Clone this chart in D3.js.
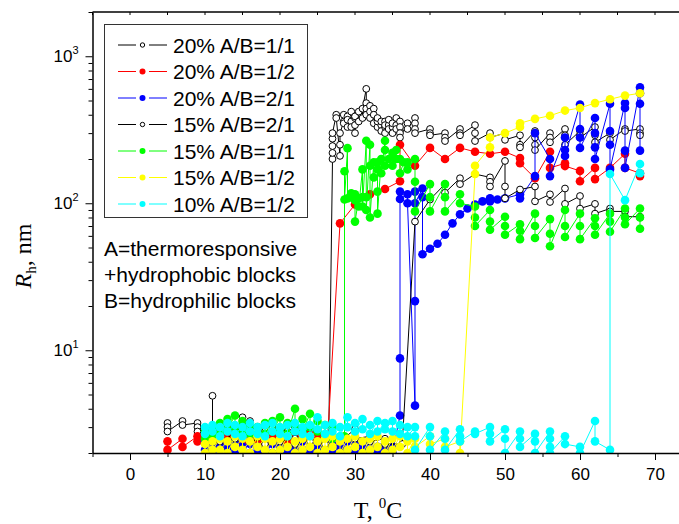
<!DOCTYPE html>
<html>
<head>
<meta charset="utf-8">
<script src="https://cdn.jsdelivr.net/npm/d3@7"></script>
<style>
  body { margin: 0; background: #fff; }
  svg { display: block; }
</style>
</head>
<body>
<script>
// each row: [T, Rh values measured at that T, in measurement order]
var s20_11 = [[5,3.2,3.0,2.8],[7,3.3,3.1],[9,3.2,3.0,2.8],[11,2.9,4.9,2.7],[12,2.8,2.6],[13,3.0,2.7],[14,2.9,2.6],[15,3.5,3.1],[16,3.3,2.9],[17,3.0,2.7],[18,2.8,2.6],[19,3.0,2.7],[20,2.9,2.6],[21,2.8,2.5],[22,3.0,2.7],[23,2.9,2.6],[24,2.8,2.5],[25,2.9,2.6],[26.5,2.6],
  [27,200,220,245,275,300],[27.5,400,380],[28,210,250,300],[28.5,360,400,350],[29,330,390,370],[29.5,420,360,330],[30,380,340,300,390],[30.5,360,420],[31,380,440],[31.5,600,480,440,400],[32,460,420,380],[32.5,440,400,350],[33,330,360,380],[33.5,340,310,360],[34,360,330,300,340],[34.5,340,370,320],[35,330,300,350],[35.5,380,340,320],[36,360,330,300,280],[37,350,320],
  [38,380,350,320,300],[40,320,300,290],[42,300,280,265],[44,320,300,290],[46,340,300,265],[48,300,280],[50,300,270],[52,290,250,240],[54,310,280,250,230],[56,300,280,260],[58,320,290,250],[60,310,290,280],[62,330,290,260],[64,300,270],[66,320,310],[68,320,300,290]];

var s20_12 = [[5,2.4,2.1],[7,2.5,2.2],[9,2.6,2.4],[11,2.7,2.5],[12,2.6,2.4],[13,3.0,2.6],[14,2.7,2.5],[15,2.6,2.4],[16,2.7,2.5],[17,2.6,2.4],[18,2.5,2.3],[19,2.6,2.4],[20,2.7,2.5],[21,2.6,2.4],[22,2.5,2.3],[23,2.6,2.4],[24,2.7,2.5],[25,2.6,2.4],[26.3,2.3],
  [28,73],[30,98],[32,115],[34,125],[36,141,250],[38,180],[40,238],[42,200],[44,238],[46,224],[48,217],[50,224],[52,203,187],[54,148],[56,224,174],[58,187,179],[60,166,141],[62,174,146],[64,174],[66,217,174],[68,160,153]];

var s20_21 = [[10,2.4,2.1],[11,2.3,2.0],[12,2.5,2.2],[13,2.3,2.1],[14,2.4,2.0],[15,2.5,2.2],[16,2.3,2.0],[17,2.2,2.0],[18,2.1,2.0],[19,2.3,2.0],[20,2.2,2.0],[21,2.1,2.0],[22,2.3,2.1],[23,2.4,2.1],[24,2.2,2.0],[25,2.3,2.1],[26,2.4,2.2],[27,2.3,2.0],[28,2.2,2.0],[29,2.4,2.1],[30,2.3,2.0],[31,2.2,2.0],[32,2.4,2.1],[33,2.2,2.0],[34,2.3,2.1],[35,2.2,2.0],
  [36,3.6,8.8,120,107],[37,115,100],[38,4.2,21.6,120,100],[39,126,110,45],[40,49],[41,53],[42,61],[43,73],[44,84],[45,92],[46,98],[47,103],[48,106,108,103],[49,106],[50,108],[52,115,108],[54,153,300],[56,200,153],[58,280,230,210],[60,470,320,280,238],[62,380,300,240,200],[64,475,310,250,170],[66,480,445,228,174],[68,614,560,475,228]];

var s15_21 = [[10,2.7,2.5],[12,2.6,2.4],[14,2.7,2.5],[16,2.6,2.4],[18,2.5,2.3],[20,2.6,2.4],[22,2.5,2.3],[24,2.6,2.4],[26,2.5,2.3],[28,2.6,2.4],[30,2.9,2.5],[32,2.6,2.4],[34,2.5,2.3],[36.3,2.3],
  [38,75],[40,106],[42,135,118],[44,148,135],[46,158],[48,150,140,130],[50,194,130,108],[52,124],[54,130,103],[56,115,102],[58,126,99],[60,112,92],[62,99,85],[64,92,88],[66,88,81],[68,81,80]];

var s15_11 = [[10,2.8,2.5],[11,3.0,2.6],[12,3.2,2.7],[13,3.4,2.9],[14,3.6,3.0],[15,3.3,2.8],[16,3.1,2.7],[17,3.0,2.6],[18,3.2,2.7],[19,3.3,2.8],[20,3.5,2.9],[21,3.2,2.7],[22,4.0,3.1],[23,3.4,2.8],[24,3.7,3.0],[25,3.3,2.8],[26,3.1,2.6],[27,3.0,2.5],[28.6,2.6],
  [28.6,165,106],[29,237,108],[29.5,117,110],[30,115,105,75],[30.5,108,95],[31,170,110,95],[31.5,266,110,90],[32,250,180,80],[32.5,190,150],[33,190,170,120,85],[33.5,200,160],[34,266,230,180],[34.5,200],[35,220,180],[35.5,230,200],[36,200,160],[36.5,190],[37,190,170],
  [38,200,140,88],[40,135,110,88],[42,135,110,88],[44,115,100],[46,95,80,70],[48,90,75,66],[50,81,70,61],[52,72,65,57],[54,85,70,58],[56,78,62,51],[58,90,70,59],[60,85,70,57],[62,79,70,61],[64,85,75,64],[66,92,80,72],[68,92,80,67]];

var s15_12 = [[10,2.3,2.0],[11,2.4,2.1],[12,2.5,2.1],[13,2.4,2.0],[14,2.6,2.2],[15,2.5,2.1],[16,2.4,2.0],[17,2.6,2.2],[18,2.5,2.1],[19,2.4,2.0],[20,2.5,2.1],[21,2.6,2.2],[22,2.4,2.0],[23,2.5,2.1],[24,2.6,2.2],[25,2.4,2.0],[26,2.5,2.1],[27,2.6,2.2],[28,2.4,2.0],[29,2.5,2.1],[30,2.6,2.2],[31,2.4,2.0],[32,2.5,2.1],[33,2.6,2.2],[34,2.4,2.0],[35,2.5,2.1],[36,2.6,2.2],[37,2.4,2.0],[38,2.5,2.2],[40,2.6,2.3],[42,2.5,2.2],[44,2.4,2.0],
  [46,158,180],[48,240,280],[50,300],[52,330,350],[54,375],[56,394],[58,427],[60,445],[62,480],[64,510],[66,540],[68,560]];

var s10_12 = [[10,3.0,2.7],[11,3.1,2.8],[12,3.0,2.6],[13,3.2,2.8],[14,3.1,2.7],[15,3.0,2.6],[16,3.2,2.8],[17,3.0,2.7],[18,3.1,2.6],[19,3.2,2.8],[20,3.0,2.7],[21,3.1,2.6],[22,3.2,2.8],[23,3.0,2.7],[24,3.1,2.6],[25,3.5,2.9],[26,3.1,2.7],[27,3.2,2.8],[28,3.0,2.6],[29,3.5,3.0],[30,3.2,2.8],[31,3.4,2.9],[32,3.1,2.7],[33,3.3,2.8],[34,3.2,2.9],[35,3.3,2.8],[36,3.1,2.7],[37,3.0,2.6],
  [38,3.0,2.6,2.1],[40,3.0,2.6,2.1],[42,2.8,2.5,2.1],[44,2.9,2.6,2.4],[46,2.8,2.7],[48,3.0,2.7,2.4],[50,2.9,2.5,2.0],[52,2.8,2.5,2.2],[54,2.7,2.4,2.0],[56,2.8,2.5,2.2,2.0],[58,2.6,2.3],[60,2.2,2.0],[62,3.3,2.4],[64,2.1,158],[66,105],[68,185,160]];

var seriesData = [s20_11, s20_12, s20_21, s15_21, s15_11, s15_12, s10_12];
var seriesNames = ["20% A/B=1/1", "20% A/B=1/2", "20% A/B=2/1", "15% A/B=2/1", "15% A/B=1/1", "15% A/B=1/2", "10% A/B=1/2"];
var seriesColors = ["#000000", "#ff0000", "#0000ff", "#000000", "#00ff00", "#ffff00", "#00ffff"];
var seriesOpen = [true, false, false, true, false, false, false];
var xTicks = [0, 10, 20, 30, 40, 50, 60, 70];
var yTicks = [10, 100, 1000];
var notes = ["A=thermoresponsive", "+hydrophobic blocks", "B=hydrophilic blocks"];

var width = 679, height = 524;
var plotL = 92.5, plotR = 692.5, plotT = 12, plotB = 453;
var sans = "'Liberation Sans', Arial, sans-serif";
var serif = "'Liberation Serif', 'Times New Roman', serif";

var x = d3.scaleLinear().domain([-5, 75]).range([plotL, plotR]);
var y = d3.scaleLog().domain([2, 2000]).range([plotB, plotT]);

var svg = d3.select("body").append("svg")
    .attr("width", width)
    .attr("height", height);

svg.append("clipPath").attr("id", "plotclip")
  .append("rect")
    .attr("x", plotL).attr("y", plotT)
    .attr("width", plotR - plotL).attr("height", plotB - plotT);

// flatten rows into points
function flat(rows) {
  var pts = [];
  rows.forEach(function(r) {
    for (var i = 1; i < r.length; i++) pts.push([r[0], r[i]]);
  });
  return pts;
}

var line = d3.line()
    .x(function(d) { return x(d[0]); })
    .y(function(d) { return y(d[1]); });

var plot = svg.append("g").attr("clip-path", "url(#plotclip)");

seriesData.forEach(function(rows, k) {
  var pts = flat(rows);
  var g = plot.append("g");
  g.append("path")
    .datum(pts)
    .attr("d", line)
    .attr("fill", "none")
    .attr("stroke", seriesColors[k])
    .attr("stroke-width", 1);
  g.selectAll("circle")
    .data(pts)
    .enter()
    .append("circle")
    .attr("cx", function(d) { return x(d[0]); })
    .attr("cy", function(d) { return y(d[1]); })
    .attr("r", seriesOpen[k] ? 3.4 : 4.3)
    .attr("fill", seriesOpen[k] ? "#fff" : seriesColors[k])
    .attr("stroke", seriesOpen[k] ? "#000" : "none")
    .attr("stroke-width", 1);
});

// frame top line
svg.append("line")
  .attr("x1", plotL).attr("x2", width).attr("y1", plotT).attr("y2", plotT)
  .attr("stroke", "#000").attr("stroke-width", 1.5);

// top ticks pointing inward
var topTicks = d3.range(-5, 76, 5);
svg.selectAll(".ttick")
  .data(topTicks)
  .enter()
  .append("line")
  .attr("class", "ttick")
  .attr("x1", function(d) { return x(d); })
  .attr("x2", function(d) { return x(d); })
  .attr("y1", plotT).attr("y2", plotT + 3)
  .attr("stroke", "#000").attr("stroke-width", 1);

// bottom axis
var xMinor = d3.range(-5, 76, 10);
svg.append("g")
  .attr("transform", "translate(0," + plotB + ")")
  .call(d3.axisBottom(x).tickValues(xMinor).tickSize(4).tickSizeOuter(0).tickFormat(""))
  .call(function(g) { g.select(".domain").remove(); });

var xa = svg.append("g")
  .attr("transform", "translate(0," + plotB + ")")
  .call(d3.axisBottom(x).tickValues(xTicks).tickSize(7).tickSizeOuter(0).tickPadding(8));
xa.select(".domain").attr("stroke-width", 1.5);
xa.selectAll("text").attr("font-family", sans).attr("font-size", 17).attr("fill", "#000");

// left axis
var yMinor = [];
[1, 10, 100, 1000].forEach(function(p) {
  for (var m = 2; m <= 9; m++) {
    if (m * p >= 2 && m * p <= 2000) yMinor.push(m * p);
  }
});
svg.append("g")
  .attr("transform", "translate(" + plotL + ",0)")
  .call(d3.axisLeft(y).tickValues(yMinor).tickSize(4).tickSizeOuter(0).tickFormat(""))
  .call(function(g) { g.select(".domain").remove(); });

var ya = svg.append("g")
  .attr("transform", "translate(" + plotL + ",0)")
  .call(d3.axisLeft(y).tickValues(yTicks).tickSize(7).tickSizeOuter(0).tickFormat(""));
ya.select(".domain").attr("stroke-width", 1.5);

var ylab = svg.append("g").selectAll("text")
  .data(yTicks)
  .enter()
  .append("text")
  .attr("x", plotL - 14)
  .attr("y", function(d) { return y(d) + 6; })
  .attr("text-anchor", "end")
  .attr("font-family", sans)
  .attr("font-size", 17);
ylab.append("tspan").text("10");
ylab.append("tspan")
  .attr("dy", -8)
  .attr("font-size", 11)
  .text(function(d) { return Math.round(Math.log10(d)); });

// axis titles
var yt = svg.append("text")
  .attr("transform", "translate(31,256) rotate(-90)")
  .attr("text-anchor", "middle")
  .attr("font-family", serif)
  .attr("font-size", 24);
yt.append("tspan").attr("font-style", "italic").text("R");
yt.append("tspan").attr("font-size", 15).attr("dy", 5).text("h");
yt.append("tspan").attr("dy", -5).text(", nm");

var xt = svg.append("text")
  .attr("x", 378)
  .attr("y", 518)
  .attr("text-anchor", "middle")
  .attr("font-family", serif)
  .attr("font-size", 24);
xt.append("tspan").text("T, ");
xt.append("tspan").attr("font-size", 15).attr("dy", -10).text("0");
xt.append("tspan").attr("dy", 10).text("C");

// legend
var legend = svg.append("g");
legend.append("rect")
  .attr("x", 104.5).attr("y", 24.5)
  .attr("width", 203).attr("height", 193)
  .attr("fill", "#fff")
  .attr("stroke", "#333").attr("stroke-width", 1);

var rowY = function(i) { return 45 + i * 26.5; };
seriesNames.forEach(function(name, i) {
  var row = legend.append("g").attr("transform", "translate(0," + rowY(i) + ")");
  row.append("line").attr("x1", 118).attr("x2", 136).attr("y1", 0).attr("y2", 0)
    .attr("stroke", seriesColors[i]).attr("stroke-width", 1);
  row.append("line").attr("x1", 149).attr("x2", 167).attr("y1", 0).attr("y2", 0)
    .attr("stroke", seriesColors[i]).attr("stroke-width", 1);
  row.append("circle")
    .attr("cx", 142.5).attr("cy", 0)
    .attr("r", seriesOpen[i] ? 2.2 : 3)
    .attr("fill", seriesOpen[i] ? "#fff" : seriesColors[i])
    .attr("stroke", seriesOpen[i] ? "#000" : "none");
  row.append("text")
    .attr("x", 173).attr("y", 7.5)
    .attr("font-family", sans)
    .attr("font-size", 21)
    .text(name);
});

// notes
svg.append("g").selectAll("text")
  .data(notes)
  .enter()
  .append("text")
  .attr("x", 104)
  .attr("y", function(d, i) { return 256 + i * 26; })
  .attr("font-family", sans)
  .attr("font-size", 21)
  .text(function(d) { return d; });
</script>
</body>
</html>
